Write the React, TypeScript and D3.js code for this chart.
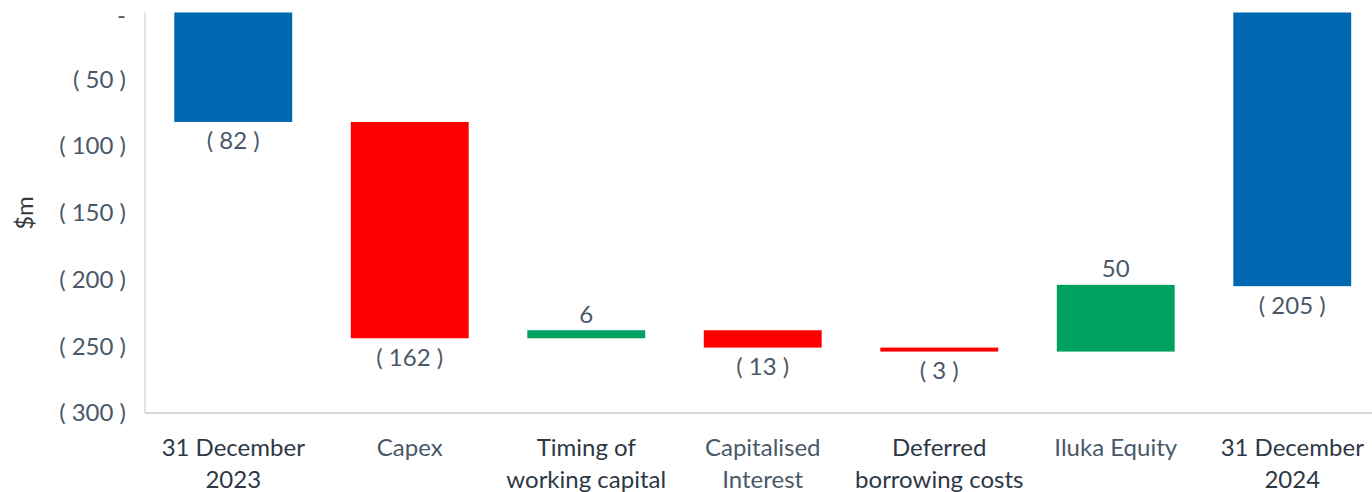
import { useEffect, useRef } from 'react';
import * as d3 from 'd3';

const categories = [
  ['31 December', '2023'],
  ['Capex'],
  ['Timing of', 'working capital'],
  ['Capitalised', 'Interest'],
  ['Deferred', 'borrowing costs'],
  ['Iluka Equity'],
  ['31 December', '2024'],
];
const values = [-82, -162, 6, -13, -3, 50, -205];
const kinds = ['total', 'delta', 'delta', 'delta', 'delta', 'delta', 'total'];
const darkLabel = [true, false, true, false, true, false, true];
const yTicks = [0, -50, -100, -150, -200, -250, -300];

const color = {
  blue: '#0067B1',
  red: '#FF0000',
  green: '#00A060',
  grid: '#D9D9D9',
  text: '#4A5868',
  textDark: '#2E3845',
};

const fmt = (v: number) => (v === 0 ? '-' : v < 0 ? `( ${Math.abs(v)} )` : `${v}`);

export default function App() {
  const svgRef = useRef<SVGSVGElement>(null);

  useEffect(() => {
    if (!svgRef.current) return;
    const width = 1372;
    const height = 492;
    const font = 'Lato, "Open Sans", sans-serif';

    // running waterfall start/end
    let run = 0;
    const data = values.map((v, i) => {
      const kind = kinds[i];
      let y0: number, y1: number;
      if (kind === 'total') {
        y0 = 0;
        y1 = v;
        run = v;
      } else {
        y0 = run;
        y1 = run + v;
        run = y1;
      }
      return { i, v, y0, y1, kind };
    });

    const svg = d3.select(svgRef.current);
    svg.selectAll('*').remove();
    svg.attr('width', width).attr('height', height);

    const x = d3.scaleBand<number>()
      .domain(data.map(d => d.i))
      .range([145, 1380.5])
      .paddingInner(0.332)
      .paddingOuter(0.166);

    const y = d3.scaleLinear().domain([-300, 0]).range([413, 12.5]);

    // Axis lines
    svg.append('line')
      .attr('x1', 145).attr('x2', 145)
      .attr('y1', y(0)).attr('y2', y(-300))
      .attr('stroke', color.grid).attr('stroke-width', 1.5);
    svg.append('line')
      .attr('x1', 145).attr('x2', width)
      .attr('y1', y(-300)).attr('y2', y(-300))
      .attr('stroke', color.grid).attr('stroke-width', 2);

    // Y tick labels (the zero dash sits a touch lower so it stays on the page)
    svg.append('g')
      .selectAll('text')
      .data(yTicks)
      .join('text')
      .attr('x', 126)
      .attr('y', d => (d === 0 ? y(d) + 3 : y(d)))
      .attr('dy', '0.35em')
      .attr('text-anchor', 'end')
      .attr('fill', color.text)
      .attr('font-family', font)
      .attr('font-size', 24)
      .text(d => fmt(d));

    svg.append('text')
      .attr('transform', `translate(33,213) rotate(-90)`)
      .attr('text-anchor', 'middle')
      .attr('fill', '#3A3A3A')
      .attr('font-family', font)
      .attr('font-size', 24)
      .text('$m');

    // Bars
    svg.append('g')
      .selectAll('rect')
      .data(data)
      .join('rect')
      .attr('x', d => x(d.i)!)
      .attr('width', x.bandwidth())
      .attr('y', d => y(Math.max(d.y0, d.y1)))
      .attr('height', d => Math.abs(y(d.y0) - y(d.y1)))
      .attr('fill', d => (d.kind === 'total' ? color.blue : d.v < 0 ? color.red : color.green));

    // Data labels
    svg.append('g')
      .selectAll('text')
      .data(data)
      .join('text')
      .attr('x', d => x(d.i)! + x.bandwidth() / 2)
      .attr('y', d => (d.v < 0 ? y(Math.min(d.y0, d.y1)) + 19 : y(Math.max(d.y0, d.y1)) - 16))
      .attr('dy', '0.35em')
      .attr('text-anchor', 'middle')
      .attr('fill', color.text)
      .attr('font-family', font)
      .attr('font-size', 24)
      .text(d => fmt(d.v));

    // Category labels
    const cat = svg.append('g')
      .selectAll('text')
      .data(categories)
      .join('text')
      .attr('x', (_, i) => x(i)! + x.bandwidth() / 2)
      .attr('y', 448)
      .attr('text-anchor', 'middle')
      .attr('fill', (_, i) => (darkLabel[i] ? color.textDark : color.text))
      .attr('font-family', font)
      .attr('font-size', 24);
    cat.selectAll('tspan')
      .data(d => d)
      .join('tspan')
      .attr('x', function () {
        return (this.parentNode as SVGTextElement).getAttribute('x');
      })
      .attr('dy', (_, j) => (j === 0 ? '0.35em' : '32'))
      .text(d => d);
  }, []);

  return (
    <div style={{ position: 'fixed', left: 0, top: 0, background: '#fff' }}>
      <svg ref={svgRef} style={{ display: 'block' }} />
    </div>
  );
}
